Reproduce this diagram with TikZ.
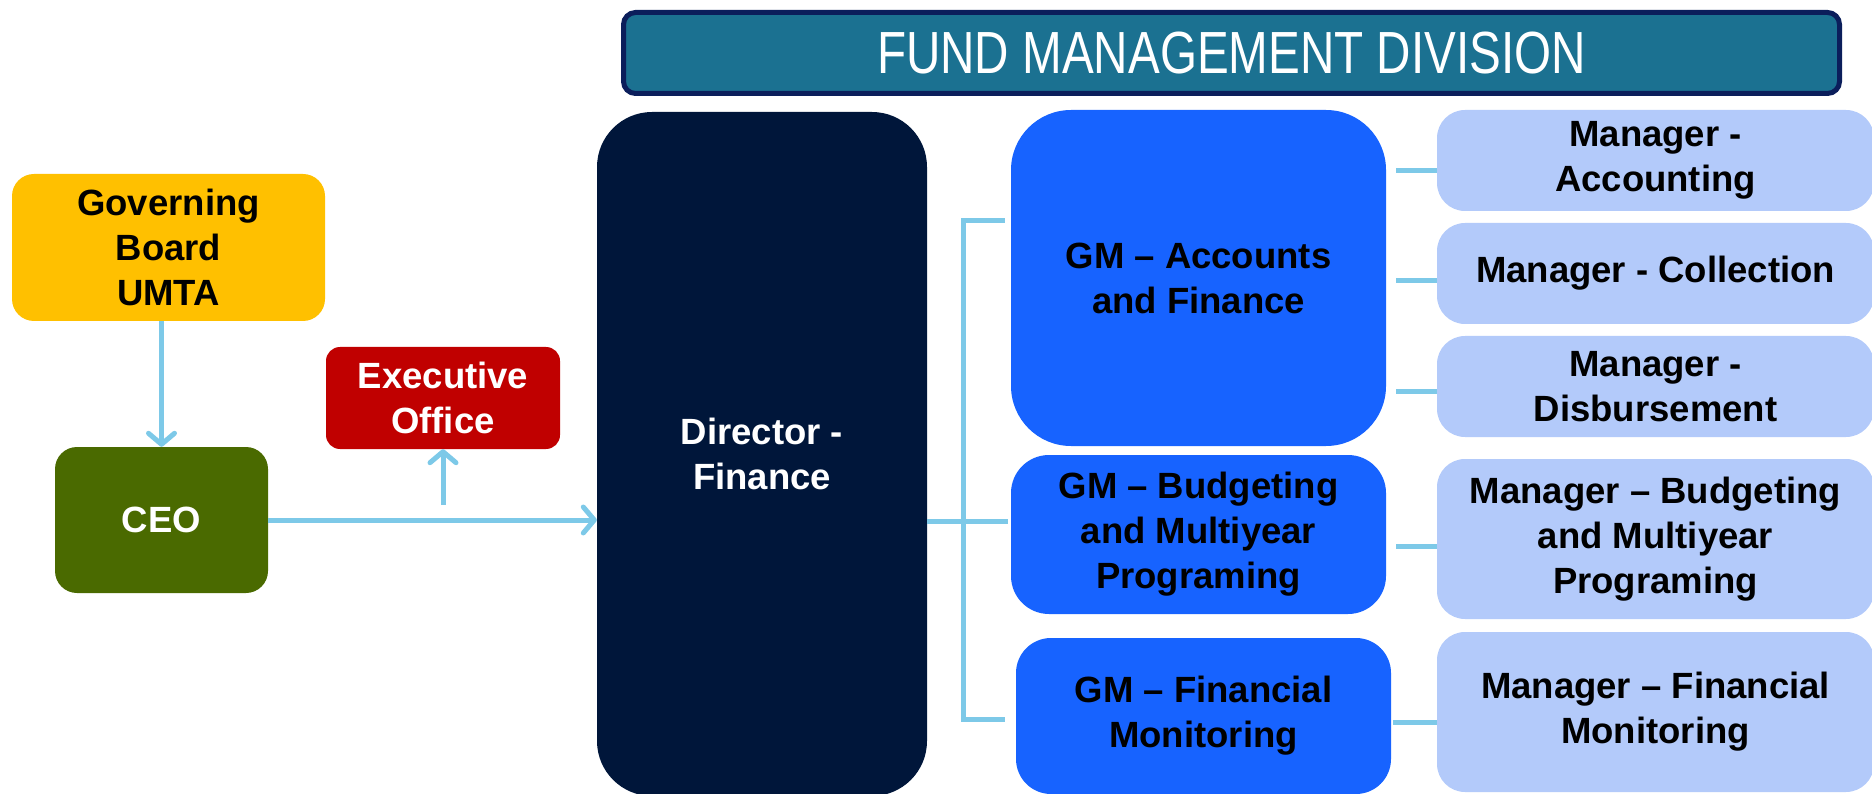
\documentclass[tikz,border=0pt]{standalone}
\usepackage{fontspec}
\setmainfont{Liberation Sans}
\usetikzlibrary{arrows.meta}
\definecolor{gbY}{HTML}{FFC000}
\definecolor{ceoG}{HTML}{4A6A00}
\definecolor{exR}{HTML}{C00000}
\definecolor{dirN}{HTML}{00163A}
\definecolor{gmB}{HTML}{1763FF}
\definecolor{mgL}{HTML}{B3CAFA}
\definecolor{ttlF}{HTML}{1B7191}
\definecolor{ttlB}{HTML}{0B1E5B}
\definecolor{lineblue}{HTML}{7DC9E8}
\begin{document}
\begin{tikzpicture}[x=1pt,y=-1pt,
  box/.style={align=center, inner sep=0pt, font=\fontsize{36.5}{45}\selectfont\bfseries},
  conn/.style={draw=lineblue, line width=5pt},
  arr/.style={conn, -{Straight Barb[length=11pt,width=26pt,line cap=round,round]}},
  mgr/.style={box, fill=mgL, text=black, minimum width=437pt, rounded corners=28pt},
  gm/.style={box, fill=gmB, text=black, minimum width=375pt}
]
\useasboundingbox (0,0) rectangle (1872,794);
% title
\node[draw=ttlB, line width=5pt, fill=ttlF, rounded corners=12pt, minimum width=1216pt, minimum height=81pt, inner sep=0pt, text=white, font=\fontsize{47.6}{50}\selectfont] (title) at (1231.5,53) {\scalebox{1}[1.25]{FUND MANAGEMENT DIVISION}};
% left
\node[box, fill=gbY, text=black, minimum width=313pt, minimum height=147pt, rounded corners=22pt] (gb) at (168.5,247.5) {Governing\\Board\\UMTA};
\node[box, fill=ceoG, text=white, minimum width=213pt, minimum height=146pt, rounded corners=22pt] (ceo) at (161.5,520) {CEO};
\node[box, fill=exR, text=white, minimum width=234pt, minimum height=102pt, rounded corners=14pt] (exec) at (443,398) {Executive\\Office};
% director
\node[box, fill=dirN, text=white, minimum width=330pt, minimum height=684pt, rounded corners=55pt] (dir) at (762,454) {Director -\\Finance};
% GMs
\node[gm, minimum height=336pt, rounded corners=60pt] (gma) at (1198.5,278) {GM -- Accounts\\and Finance};
\node[gm, minimum height=159pt, rounded corners=38pt] (gmb) at (1198.5,534.5) {GM -- Budgeting\\and Multiyear\\Programing};
\node[gm, minimum height=156pt, rounded corners=35pt] (gmf) at (1203.5,716) {GM -- Financial\\Monitoring};
% managers
\node[mgr, minimum height=101pt] (m1) at (1655.5,160.5) {Manager -\\Accounting};
\node[mgr, minimum height=101pt] (m2) at (1655.5,273.5) {Manager - Collection};
\node[mgr, minimum height=101pt] (m3) at (1655.5,386.5) {Manager -\\Disbursement};
\node[mgr, minimum height=160pt] (m4) at (1655.5,539) {Manager -- Budgeting\\and Multiyear\\Programing};
\node[mgr, minimum height=160pt] (m5) at (1655.5,712) {Manager -- Financial\\Monitoring};
% arrows left
\draw[arr] (ceo.north |- gb.south) -- (ceo.north);
\draw[arr] (ceo.east) -- (ceo.east -| dir.west);
\coordinate (eo) at (443,505);
\draw[arr] (eo) -- (exec.south);
% bracket
\coordinate (bt) at (963,221);
\coordinate (bm) at (963,521);
\coordinate (bb) at (963,719);
\draw[conn] ([xshift=-6pt]gma.west |- bt) -- (bt) -- (bb) -- ([xshift=-11pt]gmf.west |- bb);
\draw[conn] (dir.east |- bm) -- ([xshift=-3pt]gmb.west |- bm);
% manager connectors
\draw[conn] ([yshift=-10.5pt]m1.west) -- ++(-41,0);
\draw[conn] ([yshift=-7.5pt]m2.west) -- ++(-41,0);
\draw[conn] ([yshift=-4.5pt]m3.west) -- ++(-41,0);
\draw[conn] ([yshift=-7pt]m4.west) -- ++(-41,0);
\draw[conn] ([yshift=-10pt]m5.west) -- ++(-44,0);
\end{tikzpicture}
\end{document}
